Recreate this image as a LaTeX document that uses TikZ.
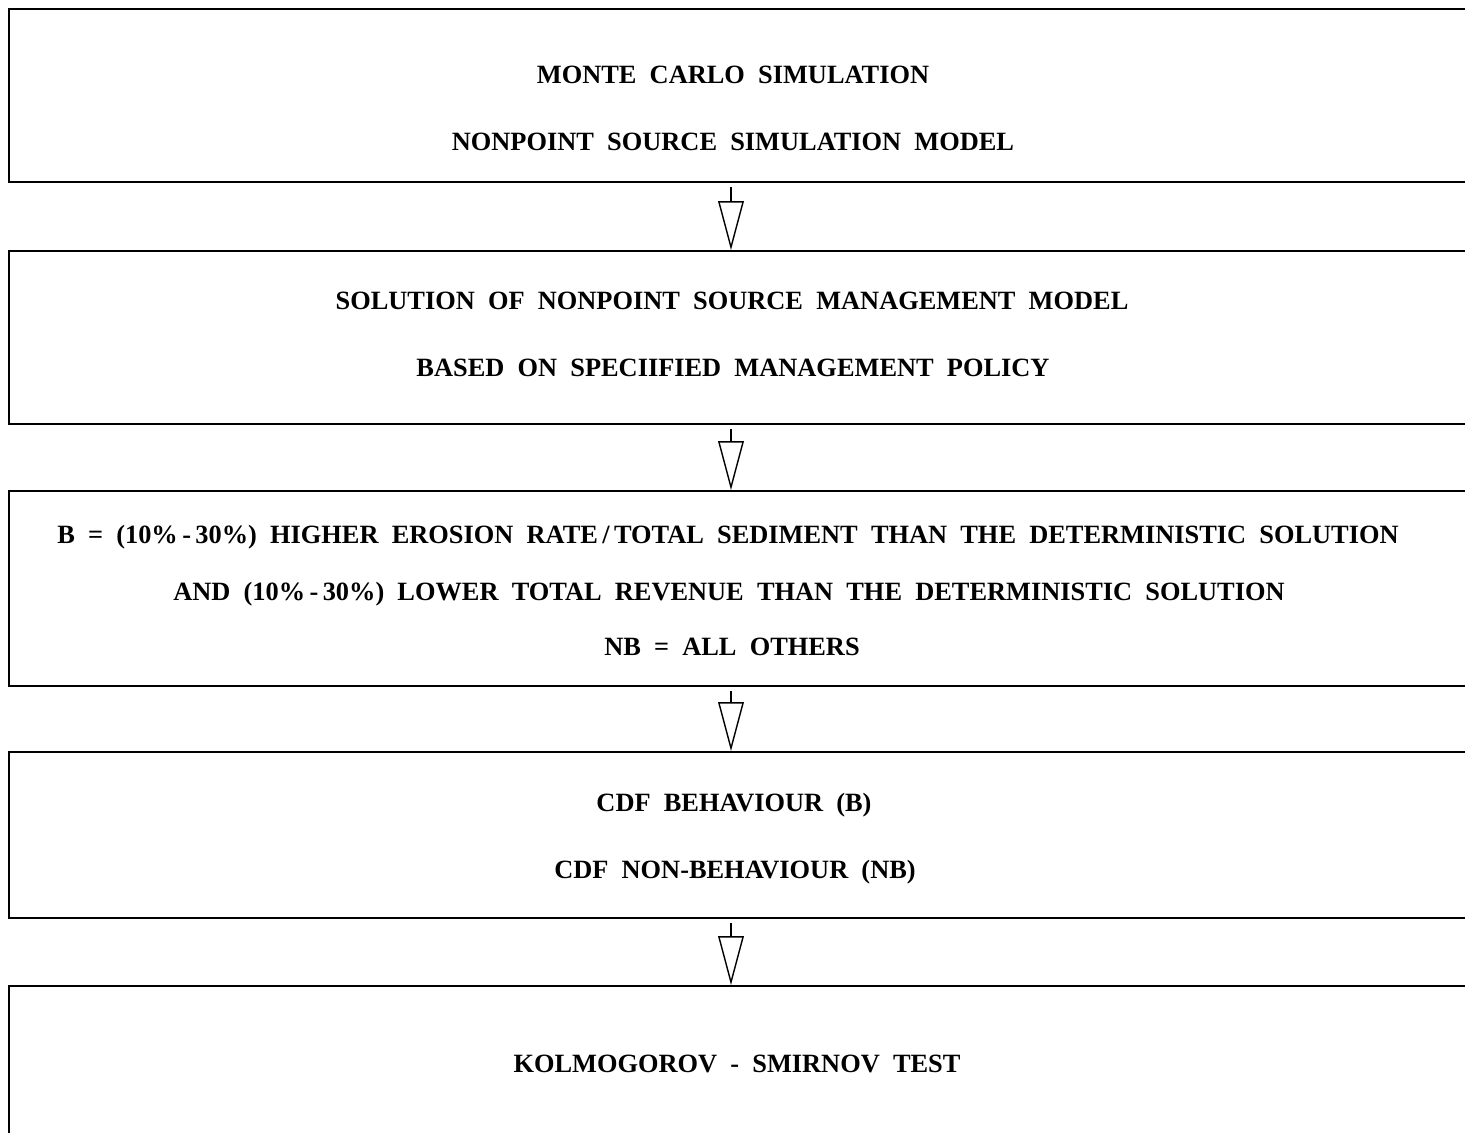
\documentclass[tikz,border=0pt]{standalone}
\usepackage{fontspec}
\setmainfont{Liberation Serif}[WordSpace=2.0]
\usetikzlibrary{arrows.meta}

\begin{document}
\begin{tikzpicture}[x = 0.01cm, y = -0.01cm, font=\bfseries\fontsize{7.5}{9}\selectfont]
	\tikzstyle{boxStyle} = [draw, line width = 0.45pt, anchor = north west, minimum width = 14.8cm, inner sep = 0pt]
	\tikzstyle{labelStyle} = [inner sep = 0pt, anchor = center]
	\tikzstyle{flowStyle} = [line width = 0.4pt, -{Triangle[open, length = 13.9pt, width = 7.3pt]}]
	\useasboundingbox (0,0) rectangle (1465,1132);
	% boxes
	\node[boxStyle, minimum height = 1.73cm] (b1) at (8,8) {};
	\node[boxStyle, minimum height = 1.73cm] (b2) at (8,250) {};
	\node[boxStyle, minimum height = 1.95cm] (b3) at (8,490) {};
	\node[boxStyle, minimum height = 1.66cm] (b4) at (8,751) {};
	\node[boxStyle, minimum height = 1.80cm] (b5) at (8,985) {};
	% texts
	\node[labelStyle] (t1a) at (733,75) {MONTE CARLO SIMULATION};
	\node[labelStyle] (t1b) at (733,142) {NONPOINT SOURCE SIMULATION MODEL};
	\node[labelStyle] (t2a) at (732,301) {SOLUTION OF NONPOINT SOURCE MANAGEMENT MODEL};
	\node[labelStyle] (t2b) at (733,368) {BASED ON SPECIIFIED MANAGEMENT POLICY};
	\node[labelStyle] (t3a) at (728,537) {B = (10\%\,-\,30\%) HIGHER EROSION RATE\,/\,TOTAL SEDIMENT THAN THE DETERMINISTIC SOLUTION};
	\node[labelStyle] (t3b) at (729,594) {AND (10\%\,-\,30\%) LOWER TOTAL REVENUE THAN THE DETERMINISTIC SOLUTION};
	\node[labelStyle] (t3c) at (732,647) {NB = ALL OTHERS};
	\node[labelStyle] (t4a) at (734,805) {CDF BEHAVIOUR (B)};
	\node[labelStyle] (t4b) at (735,872) {CDF NON-BEHAVIOUR (NB)};
	\node[labelStyle] (t5) at (737,1064) {KOLMOGOROV - SMIRNOV TEST};
	% arrows
	\coordinate (a1) at (731,187);
	\coordinate (a2) at (731,429);
	\coordinate (a3) at (731,691);
	\coordinate (a4) at (731,923);
	\draw[flowStyle] (a1) -- (a1 |- b2.north);
	\draw[flowStyle] (a2) -- (a2 |- b3.north);
	\draw[flowStyle] (a3) -- (a3 |- b4.north);
	\draw[flowStyle] (a4) -- (a4 |- b5.north);
\end{tikzpicture}
\end{document}
